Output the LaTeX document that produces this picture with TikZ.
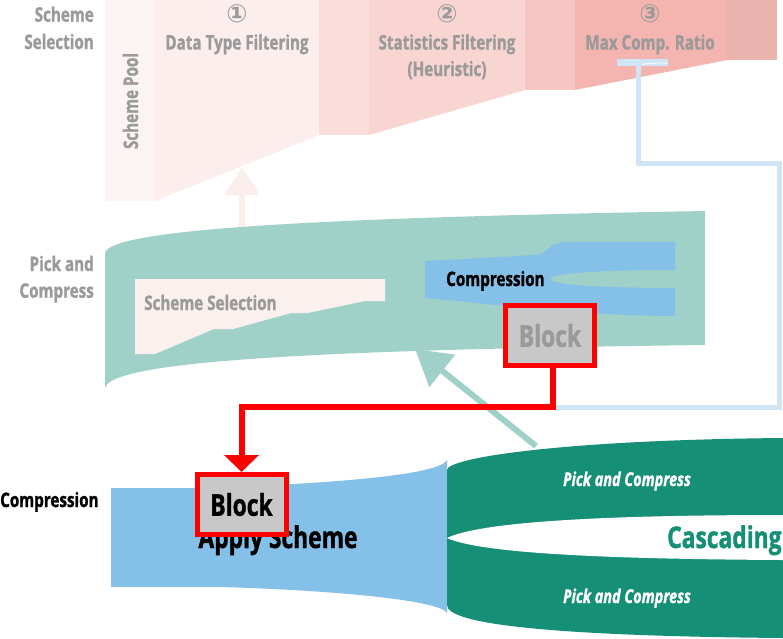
\documentclass[tikz,border=0pt]{standalone}
\usepackage{fontspec}
\setmainfont{Open Sans}[FakeStretch=0.76, BoldFeatures={FakeBold=1.2}, BoldItalicFeatures={FakeBold=1.2}]
\newfontfamily\symfont{DejaVu Sans}
\usetikzlibrary{arrows.meta}
\definecolor{txtgray}{HTML}{9A9A9A}
\definecolor{poolc}{HTML}{FCF4F2}
\definecolor{dtfc}{HTML}{FCEEEC}
\definecolor{gapa}{HTML}{FADCDA}
\definecolor{sfc}{HTML}{F9D5D2}
\definecolor{gapb}{HTML}{F6C6C2}
\definecolor{mcrc}{HTML}{F4B5B0}
\definecolor{gapc}{HTML}{EAB3AD}
\definecolor{lteal}{HTML}{A0D1C8}
\definecolor{cblue}{HTML}{85C0E8}
\definecolor{dteal}{HTML}{158F76}
\definecolor{lblue}{HTML}{CFE5F5}
\definecolor{innerpink}{HTML}{FAF0EE}
\definecolor{blockfill}{HTML}{C8C8C8}
\begin{document}
\begin{tikzpicture}[x=1pt,y=-1pt,
  lbl/.style={font=\fontsize{20}{24}\selectfont\bfseries, text=txtgray, inner sep=0pt, anchor=base},
  blk/.style={font=\fontsize{20}{24}\selectfont\bfseries, text=black, inner sep=0pt, anchor=base},
  numlbl/.style={font=\symfont\fontsize{25}{28}\selectfont\bfseries, text=txtgray, inner sep=0pt, anchor=center},
  itl/.style={font=\fontsize{19}{22}\selectfont\bfseries\itshape, text=white, inner sep=0pt, anchor=base},
  blockbox/.style={draw=red, line width=5pt, fill=blockfill, minimum width=89pt, minimum height=60pt, inner sep=0pt, font=\fontsize{30}{34}\selectfont\bfseries},
  redline/.style={draw=red, line width=6pt},
  lbline/.style={draw=lblue, line width=5pt}
]
\useasboundingbox (0,0) rectangle (783,638);
\fill[white] (0,0) rectangle (783,638);

% ---- Scheme selection funnel ----
\fill[poolc] (105,0) rectangle (155,201);
\fill[dtfc] (155,0) -- (319,0) -- (319,135) -- (155,201) -- cycle;
\fill[gapa] (319,0) rectangle (369,135);
\fill[sfc] (369,0) -- (525,0) -- (525,90) -- (369,135) -- cycle;
\fill[gapb] (525,0) rectangle (575,90);
\fill[mcrc] (575,0) -- (727,0) -- (727,60) -- (575,90) -- cycle;
\fill[gapc] (727,0) rectangle (777,60);

\node[lbl, anchor=base east] (ss1) at (94,21.7) {Scheme};
\node[lbl, anchor=base east] (ss2) at (94,49) {Selection};
\node[numlbl] (n1) at (237,14) {①};
\node[lbl] (dtf) at (237,49.5) {Data Type Filtering};
\node[numlbl] (n2) at (447,14) {②};
\node[lbl] (sf1) at (447,49.5) {Statistics Filtering};
\node[lbl] (sf2) at (447,76) {(Heuristic)};
\node[numlbl] (n3) at (650,14) {③};
\node[lbl] (mcr) at (650,49.5) {Max Comp. Ratio};
\node[lbl, rotate=90] (pool) at (138,101) {Scheme Pool};

% ---- pink arrow ----
\coordinate (pa0) at (242,232);
\coordinate (pa1) at (242,167);
\draw[dtfc, line width=6pt, -{Triangle[width=34pt,length=28pt]}] (pa0) -- (pa1);

% ---- light blue connector ----
\coordinate (rturn) at (0,407);
\coordinate (lbr) at (779,163);
\coordinate (lbtop) at (638,63);
\coordinate (tb0) at (617,62.5);
\coordinate (tb1) at (668,62.5);
\coordinate (tw0) at (642,64.5);
\coordinate (tw1) at (668,63);

% ---- Pick and Compress band ----
\fill[lteal] (105,253) .. controls (110,230) and (300,218) .. (705,211)
  -- (705,345) .. controls (300,350) and (110,362) .. (105,388) -- cycle;
\fill[innerpink] (135,279) -- (385,279) -- (385,301) -- (365,301) -- (308,313) -- (291,313)
  -- (233,329) -- (214,329) -- (155,354) -- (135,354) -- cycle;
\fill[cblue] (425,261) -- (535,255) .. controls (548,254) and (548,243) .. (565,242) -- (675,242)
  -- (675,270) .. controls (590,270) and (550,274) .. (550,279)
  .. controls (550,284) and (590,288) .. (675,288)
  -- (675,316) .. controls (560,315) and (480,302) .. (425,298) -- cycle;
\node[lbl, anchor=base east] (pc1) at (94,271) {Pick and};
\node[lbl, anchor=base east] (pc2) at (94,297.7) {Compress};
\node[lbl, anchor=base west] (ssin) at (144,310) {Scheme Selection};
\node[blk, anchor=base west] (compin) at (446,286) {Compression};
\node[blockbox, text=txtgray] (blockA) at (550,335.5) {Block};

% ---- bottom: compression band ----
\fill[cblue] (111,488) -- (200,488) .. controls (330,484) and (440,475) .. (447,460)
  -- (447,613) .. controls (440,600) and (330,590) .. (220,587) -- (111,587) -- cycle;
\fill[dteal] (447,470) .. controls (447,458) and (560,440) .. (783,438)
  -- (783,638) .. controls (560,636) and (447,625) .. (447,605) -- cycle;
\fill[white] (447,538) .. controls (480,522) and (600,515) .. (783,515)
  -- (783,560) .. controls (600,559) and (480,553) .. (447,538) -- cycle;
\node[blk, anchor=base west] (compout) at (0,507) {Compression};
\node[blk, font=\fontsize{30}{34}\selectfont\bfseries] (apply) at (278,548) {Apply Scheme};
\node[itl] (pcA) at (627,486) {Pick and Compress};
\node[itl] (pcB) at (627,603) {Pick and Compress};
\node[blk, text=dteal, anchor=base west, font=\fontsize{30}{34}\selectfont\bfseries] (casc) at (667,548) {Cascading};

% ---- teal arrow ----
\coordinate (ta0) at (536,446);
\coordinate (ta1) at (415,349);
\draw[lteal, line width=6pt, -{Triangle[width=40pt,length=35pt]}] (ta0) -- (ta1);

% light blue path
\draw[lbline] ([xshift=3pt]blockA.south |- rturn) -| (lbr) -| (lbtop);
\draw[lblue, line width=7pt] (tb0) -- (tb1);
\draw[white, line width=0.9pt] (tw0) .. controls (650,63) .. (tw1);

% ---- bottom block + red connector ----
\node[blockbox, text=black] (blockB) at (241.5,504.5) {Block};
\draw[redline, -{Triangle[width=34pt,length=17pt]}] ([xshift=3pt]blockA.south) -- ([xshift=3pt]blockA.south |- rturn) -- (blockB.north |- rturn) -- (blockB.north);
\end{tikzpicture}
\end{document}
